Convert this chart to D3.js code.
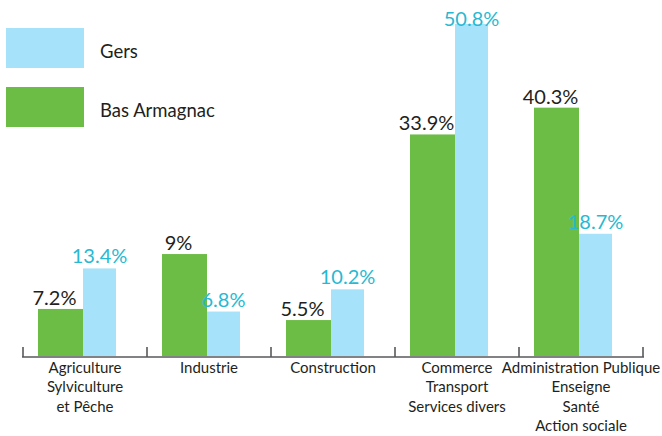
<!DOCTYPE html>
<html><head><meta charset="utf-8">
<script src="https://cdn.jsdelivr.net/npm/d3@7"></script>
<style>body{margin:0;background:#fff}svg{display:block}text{font-family:Lato,"Open Sans",sans-serif}</style>
</head><body><svg id="c" width="662" height="436"></svg>
<script>
const categories = [
  ["Agriculture","Sylviculture","et Pêche"],
  ["Industrie"],
  ["Construction"],
  ["Commerce","Transport","Services divers"],
  ["Administration Publique","Enseigne","Santé","Action sociale"]
];
// bar heights as drawn in the picture (%)
const basArmagnacBars = [7.2, 15.6, 5.5, 33.9, 38.0];
const gersBars = [13.4, 6.8, 10.2, 50.8, 18.7];
// printed value labels
const basArmagnacLabels = ["7.2%", "9%", "5.5%", "33.9%", "40.3%"];
const gersLabels = ["13.4%", "6.8%", "10.2%", "50.8%", "18.7%"];
const seriesNames = ["Gers", "Bas Armagnac"];

const GREEN = "#6cbd45", BLUE = "#a6e2f9", BLUE_TXT = "#27b9d2", DARK = "#231f20", AXIS = "#58595b";
const svg = d3.select("#c");
const x = d3.scaleBand().domain(d3.range(categories.length)).range([23, 643]).paddingInner(0).paddingOuter(0);
const y = d3.scaleLinear().domain([0, 50.8]).range([356, 24]);
const gw = 45, bw = 33, off = 15;

// bars
const g = svg.append("g");
g.selectAll(".bg").data(basArmagnacBars).join("rect")
  .attr("x", (d,i) => x(i) + off).attr("y", d => y(d))
  .attr("width", gw).attr("height", d => y(0) - y(d)).attr("fill", GREEN);
g.selectAll(".bb").data(gersBars).join("rect")
  .attr("x", (d,i) => x(i) + off + gw).attr("y", d => y(d))
  .attr("width", bw).attr("height", d => y(0) - y(d)).attr("fill", BLUE);

// axis
svg.append("line").attr("x1", 22).attr("x2", 644).attr("y1", 357).attr("y2", 357)
  .attr("stroke", AXIS).attr("stroke-width", 1.6);
const edges = d3.range(categories.length + 1).map(i => i < categories.length ? x(i) : x(i-1) + x.bandwidth());
svg.selectAll(".tk").data(edges).join("line")
  .attr("x1", d => d).attr("x2", d => d).attr("y1", 347).attr("y2", 357)
  .attr("stroke", AXIS).attr("stroke-width", 1.6);

// category labels
categories.forEach((lines, i) => {
  const t = svg.append("text").attr("text-anchor", "middle").attr("font-size", 15).attr("fill", DARK)
    .attr("x", x(i) + x.bandwidth()/2).attr("y", 373);
  lines.forEach((l, k) => t.append("tspan").attr("x", x(i) + x.bandwidth()/2).attr("dy", k ? 19.3 : 0).text(l));
});

// value labels
const vf = "'Open Sans', sans-serif";
svg.selectAll(".lg").data(basArmagnacBars).join("text")
  .attr("text-anchor", "middle").attr("font-size", 20).attr("font-family", vf).attr("fill", DARK)
  .attr("x", (d,i) => x(i) + off + gw/2 - 6).attr("y", d => Math.max(y(d) - 4, 26))
  .text((d,i) => basArmagnacLabels[i]);
svg.selectAll(".lb").data(gersBars).join("text")
  .attr("text-anchor", "middle").attr("font-size", 20).attr("font-family", vf).attr("fill", BLUE_TXT)
  .attr("x", (d,i) => x(i) + off + gw + bw/2).attr("y", d => Math.max(y(d) - 5, 26))
  .text((d,i) => gersLabels[i]);

// legend
const leg = [{name: seriesNames[0], c: BLUE, y: 28}, {name: seriesNames[1], c: GREEN, y: 87}];
leg.forEach(l => {
  svg.append("rect").attr("x", 6).attr("y", l.y).attr("width", 78).attr("height", 40).attr("fill", l.c);
  svg.append("text").attr("x", 100).attr("y", l.y + 30).attr("font-size", 18.5).attr("fill", DARK).text(l.name);
});
</script></body></html>
